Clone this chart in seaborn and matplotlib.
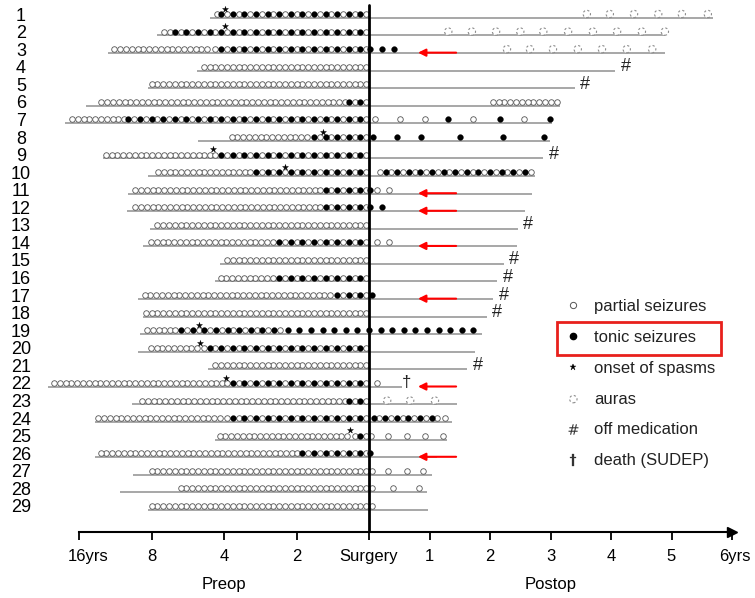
import numpy as np
import pandas as pd
import matplotlib.pyplot as plt
import seaborn as sns
from matplotlib.lines import Line2D
from matplotlib.patches import Rectangle
from matplotlib.transforms import (ScaledTranslation, IdentityTransform,
                                   blended_transform_factory)

# follow-up line per patient: years before surgery -> years after surgery
patients = list(range(1, 30))
line_from = [4.57, 7.59, 12.1, 5.18, 8.27, 15.0, 18.3, 5.13, 12.7, 8.27,
             10.0, 10.1, 8.1, 8.67, 4.16, 4.36, 9.1, 8.67, 8.94, 9.1,
             4.66, 21.5, 9.64, 13.7, 4.36, 13.7, 9.55, 10.8, 8.27]
line_to = [5.69, 4.89, 4.89, 4.07, 3.40, 3.16, 3.02, 2.99, 2.88, 2.74,
           2.69, 2.58, 2.46, 2.45, 2.23, 2.12, 2.05, 1.95, 1.87, 1.75,
           1.62, 0.55, 1.45, 1.37, 1.29, 1.12, 1.04, 0.96, 0.97]

# dense runs (patient, from, to) in years, preop is negative
partial_runs = [
    (1, -4.3, -4.16), (2, -7.17, -6.51), (3, -11.6, -4.57), (4, -5.1, 0),
    (5, -8.1, 0), (6, -13.5, -0.58), (6, 2.0, 3.15), (7, -17.8, -10.1),
    (8, -3.89, -1.63), (9, -12.5, -4.44), (10, -7.59, -3.18),
    (11, -9.83, -1.41), (12, -9.83, -1.41), (13, -7.59, 0),
    (14, -8.35, -2.58), (15, -4.08, 0), (16, -4.28, -2.58),
    (17, -8.94, -0.99), (18, -8.5, 0), (19, -8.67, -6.51),
    (20, -8.27, -5.03), (21, -4.57, 0), (22, -21.1, -3.96),
    (23, -9.19, -0.58), (24, -13.5, -4.04), (25, -4.24, -0.52),
    (26, -13.5, -2.03), (27, -8.35, 0), (28, -6.09, 0), (29, -8.1, 0),
]
# partial and tonic seizures alternating
mixed_runs = [
    (1, -4.16, 0), (2, -6.51, 0), (3, -4.57, 0), (6, -0.58, 0),
    (7, -10.1, 0), (8, -1.63, 0), (9, -4.44, 0), (10, -3.18, 0),
    (10, 0.1, 2.72), (11, -1.41, 0), (12, -1.41, 0), (14, -2.58, 0),
    (16, -2.58, 0), (17, -0.99, 0), (19, -6.51, -2.28), (20, -5.03, 0),
    (22, -3.96, 0), (23, -0.58, 0), (24, -4.04, 0), (24, 0.0, 1.18),
    (25, -0.52, 0), (26, -2.03, 0),
]
tonic_runs = [(19, -2.28, 1.82)]

# single postop events (patient, years)
partial_events = [(7, 0.10), (7, 0.51), (7, 0.93), (7, 1.72), (7, 2.56),
                  (11, 0.13), (11, 0.33), (14, 0.13), (14, 0.33), (22, 0.13),
                  (24, 1.25), (25, 0.03), (25, 0.32), (25, 0.63), (25, 0.93),
                  (25, 1.22), (27, 0.05), (27, 0.32), (27, 0.63), (27, 0.9),
                  (28, 0.05), (28, 0.4), (28, 0.82), (29, 0.05)]
tonic_events = [(3, 0.02), (3, 0.21), (3, 0.41), (7, 1.31), (7, 2.17),
                (7, 2.99), (8, 0.07), (8, 0.46), (8, 0.86), (8, 1.50),
                (8, 2.21), (8, 2.89), (11, 0.02), (12, 0.02), (12, 0.22),
                (17, 0.05), (26, 0.02)]
aura_events = [(1, 3.60), (1, 3.98), (1, 4.38), (1, 4.78), (1, 5.17), (1, 5.60),
               (2, 1.31), (2, 1.70), (2, 2.10), (2, 2.50), (2, 2.88),
               (2, 3.29), (2, 3.70), (2, 4.10), (2, 4.51), (2, 4.89),
               (3, 2.28), (3, 2.66), (3, 3.04), (3, 3.45), (3, 3.85),
               (3, 4.26), (3, 4.68), (23, 0.30), (23, 0.68), (23, 1.09)]
spasm_onsets = [(1, -3.96), (2, -3.96), (8, -1.27), (9, -4.44), (10, -2.23),
                (19, -5.08), (20, -5.03), (22, -3.93), (25, -0.52)]
off_medication = [4, 5, 9, 13, 15, 16, 17, 18, 21]
sudep = [(22, 0.6)]
improved = [3, 11, 12, 14, 17, 22, 26]
arrow_span = (1.44, 0.81)

tick_years = [-16, -8, -4, -2, 0, 1, 2, 3, 4, 5, 6]
tick_labels = ['16yrs', '8', '4', '2', 'Surgery', '1', '2', '3', '4', '5', '6yrs']
legend_labels = ['partial seizures', 'tonic seizures', 'onset of spasms',
                 'auras', 'off medication', 'death (SUDEP)']

POST_SCALE = 60.5 / 72.5   # one postop year vs one preop doubling
STEP = 0.08                # spacing of the dense circles


def to_x(t):
    """preop: doubling scale (0-2 yrs linear), postop: linear years"""
    t = np.asarray(t, dtype=float)
    a = -t
    pre = np.where(a <= 2, -a / 2, -np.log2(np.maximum(a, 2)))
    return np.where(t < 0, pre, t * POST_SCALE)


def run_positions(t0, t1, step):
    x0, x1 = float(to_x(t0)), float(to_x(t1))
    return np.arange(x1 - step / 2, x0 - 1e-9, -step)


open_pts, filled_pts = [], []
for p, t0, t1 in partial_runs:
    open_pts += [(x, p) for x in run_positions(t0, t1, STEP)]
for p, t0, t1 in mixed_runs:
    for k, x in enumerate(run_positions(t0, t1, STEP)):
        (filled_pts if k % 2 else open_pts).append((x, p))
for p, t0, t1 in tonic_runs:
    filled_pts += [(x, p) for x in run_positions(t0, t1, 2 * STEP)]
open_pts += [(float(to_x(t)), p) for p, t in partial_events]
filled_pts += [(float(to_x(t)), p) for p, t in tonic_events]

open_df = pd.DataFrame(open_pts, columns=['x', 'patient'])
filled_df = pd.DataFrame(filled_pts, columns=['x', 'patient'])
aura_df = pd.DataFrame([(float(to_x(t)), p) for p, t in aura_events],
                       columns=['x', 'patient'])
spasm_df = pd.DataFrame([(float(to_x(t)), p - 0.3) for p, t in spasm_onsets],
                        columns=['x', 'patient'])

sns.set_theme(style='white')
plt.rcParams['font.family'] = ['Liberation Sans', 'DejaVu Sans']

W, H = 755, 598
fig = plt.figure(figsize=(W / 100, H / 100), dpi=100)
ax = fig.add_axes([36 / W, (H - 532) / H, (W - 36) / W, 532 / H])

# follow-up lines
ax.hlines(np.array(patients) + 0.22, to_x(-np.array(line_from)),
          to_x(np.array(line_to)), color='#a0a0a0', lw=1.3, zorder=1)
ax.axvline(0, ymin=0, ymax=(532 - 5) / 532, color='black', lw=2, zorder=4)

sns.scatterplot(data=open_df, x='x', y='patient', marker='o', s=16,
                color='white', edgecolor='#555555', linewidth=0.6,
                ax=ax, zorder=3)
sns.scatterplot(data=filled_df, x='x', y='patient', marker='o', s=17,
                color='black', edgecolor='black', linewidth=0.3,
                ax=ax, zorder=3)
sns.scatterplot(data=aura_df, x='x', y='patient', marker='o', s=28,
                color='white', edgecolor='#8c8c8c', linewidth=0.8,
                linestyle=(0, (2, 2)), ax=ax, zorder=3)
sns.scatterplot(data=spasm_df, x='x', y='patient', marker='*', s=20,
                color='black', edgecolor='black', linewidth=0.3,
                ax=ax, zorder=5)

for p in off_medication:
    ax.annotate('#', xy=(float(to_x(line_to[p - 1])), p), xytext=(7.5, 0),
                textcoords='offset points', ha='center', va='center',
                fontsize=13, color='#222222')
for p, t in sudep:
    ax.annotate('\u2020', xy=(float(to_x(t)), p), xytext=(1, 0),
                textcoords='offset points', ha='center', va='center',
                fontsize=12, color='#222222')
for p in improved:
    ax.annotate('', xy=(float(to_x(arrow_span[1])), p + 0.2),
                xytext=(float(to_x(arrow_span[0])), p + 0.2),
                arrowprops=dict(arrowstyle='-|>', color='red', lw=1.5,
                                mutation_scale=11, shrinkA=0, shrinkB=0))

# axes, ticks, labels
ax.set_xlim((36 - 369) / 72.5, (W - 369) / 72.5)
ax.set_ylim(30.48, 0.203)
ax.set(xlabel='', ylabel='')
for s in ['top', 'right', 'left']:
    ax.spines[s].set_visible(False)
ax.spines['bottom'].set_linewidth(1.5)
ax.spines['bottom'].set_color('black')
ax.spines['bottom'].set_bounds(-4, float(to_x(6)))
ax.plot([float(to_x(6))], [0], marker='>', ms=7, color='black',
        transform=ax.get_xaxis_transform(), clip_on=False)

ax.set_xticks(to_x(tick_years))
ax.set_xticklabels(tick_labels)
ax.tick_params(axis='x', bottom=True, direction='out', length=6, width=1.3,
               pad=6.5, labelsize=12, colors='black')
xlbls = ax.get_xticklabels()
for lbl, dx in ((xlbls[0], 9), (xlbls[-1], 3)):
    lbl.set_transform(lbl.get_transform()
                      + ScaledTranslation(dx / 100, 0, fig.dpi_scale_trans))

ax.set_yticks(patients)
ax.set_yticklabels([str(p) for p in patients],
                   family=['Liberation Sans Narrow', 'Liberation Sans'],
                   fontsize=13)
ax.tick_params(axis='y', left=False, length=0, pad=10.8, colors='black')
for lbl in ax.get_yticklabels():
    lbl.set_ha('center')

trans = blended_transform_factory(ax.transData, ax.transAxes)
ax.text(float(to_x(-4)), (532 - 584) / 532, 'Preop', transform=trans,
        ha='center', va='center', fontsize=12, color='black')
ax.text(float(to_x(3)), (532 - 584) / 532, 'Postop', transform=trans,
        ha='center', va='center', fontsize=12, color='black')

# legend
handles = [
    Line2D([], [], ls='none', marker='o', ms=4.5, mfc='white', mec='#555555', mew=0.7),
    Line2D([], [], ls='none', marker='o', ms=4.5, mfc='black', mec='black'),
    Line2D([], [], ls='none', marker='*', ms=5, mfc='black', mec='black', mew=0.3),
    ax.scatter([], [], s=28, facecolor='white', edgecolor='#8c8c8c',
               linewidth=0.8, linestyle=(0, (2, 2))),
    Line2D([], [], ls='none', marker=r'$\#$', ms=7.5, color='#333333', mew=0),
    Line2D([], [], ls='none', marker='$\u2020$', ms=8, color='#333333', mew=0.2),
]
leg = ax.legend(handles, legend_labels, loc='center left',
                bbox_to_anchor=(565 / W, 1 - 383.5 / H),
                bbox_transform=fig.transFigure, frameon=False, fontsize=12,
                handlelength=1.0, handletextpad=0.75, labelspacing=0.96,
                borderpad=0, borderaxespad=0, scatterpoints=1, numpoints=1)
for t in leg.get_texts():
    t.set_color('#222222')

fig.canvas.draw()
tb = leg.get_texts()[1].get_window_extent()
yc = (tb.y0 + tb.y1) / 2
fig.add_artist(Rectangle((tb.x0 - 37, yc - 18), tb.width + 62, 33,
                         transform=IdentityTransform(), fill=False,
                         edgecolor='#e8201c', lw=2))

fig.savefig('out.png', dpi=100)
